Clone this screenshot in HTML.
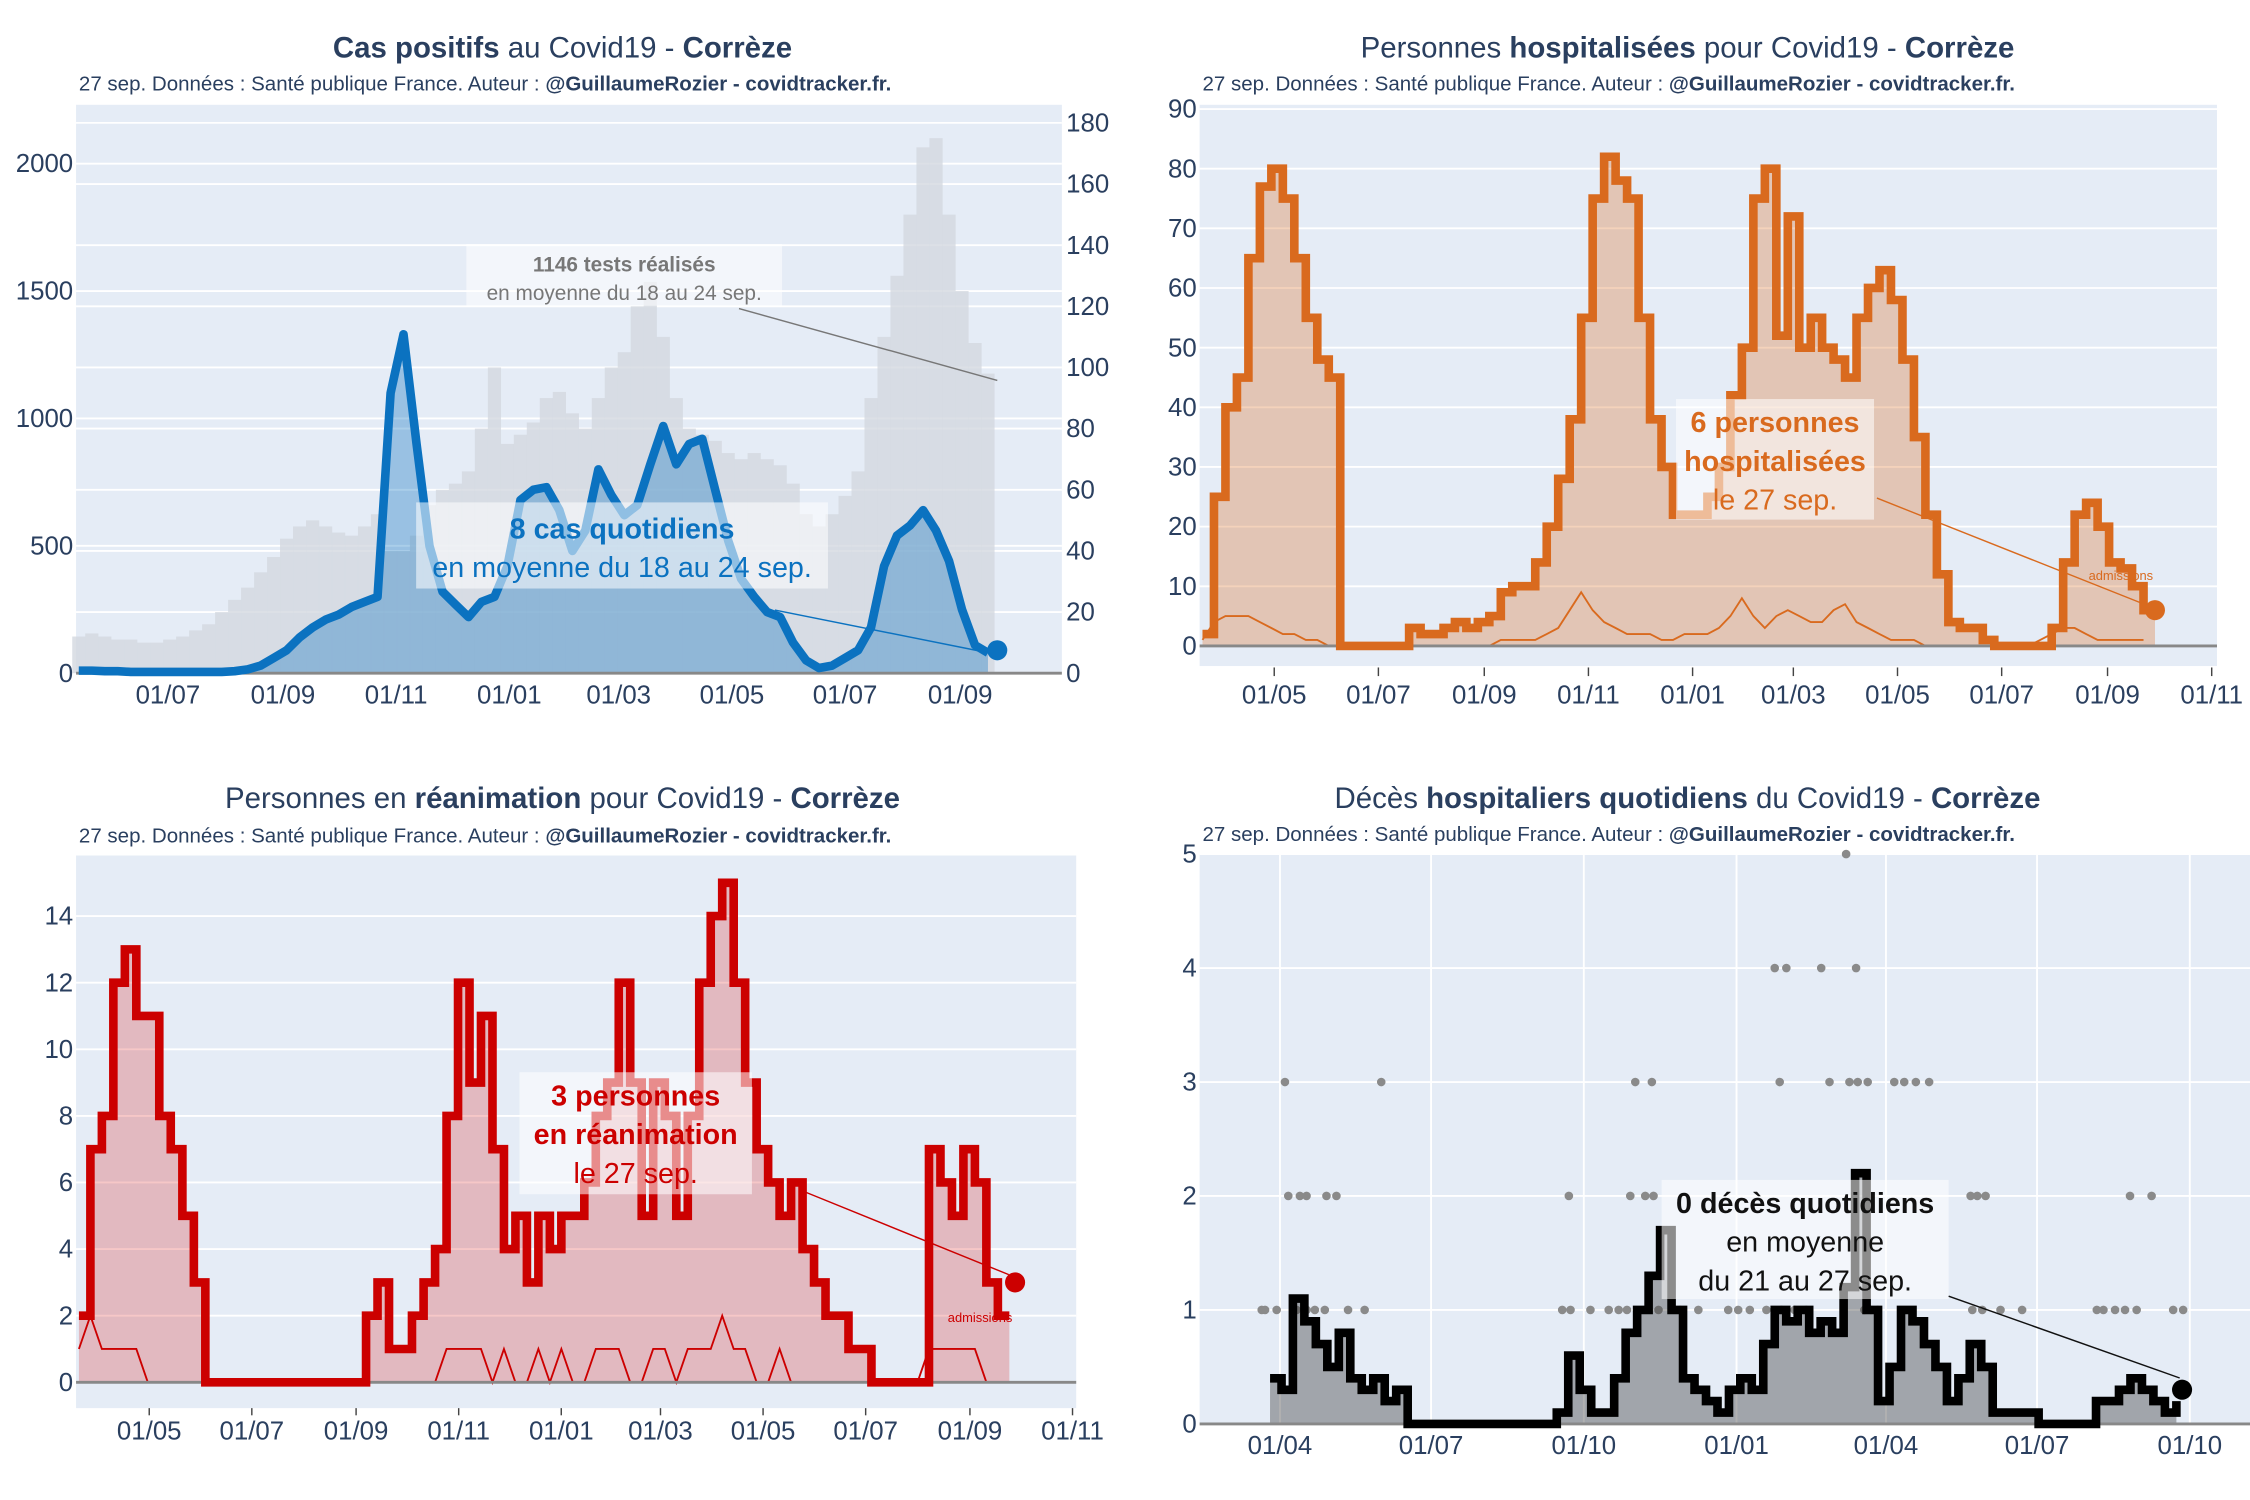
<!DOCTYPE html>
<html><head><meta charset="utf-8"><style>
html,body{margin:0;padding:0;background:#fff}
svg{display:block}
text{font-family:"Liberation Sans",sans-serif}
</style></head><body>
<svg id="root" width="2250" height="1500" viewBox="0 0 1568 1045" preserveAspectRatio="none" xmlns="http://www.w3.org/2000/svg"></svg>
<script>
// ---------- DATA ----------
// Chart 1: cas positifs (weekly, start 2020-05-14)
const casesVals=[10,10,8,8,5,5,5,5,5,5,5,5,8,15,30,60,90,140,180,210,230,260,280,300,1100,1330,900,500,320,270,220,280,300,420,680,720,730,640,480,560,800,700,620,660,820,970,820,900,920,720,520,370,300,240,220,120,50,20,30,60,90,180,420,540,580,640,560,440,250,110,80];
const testsVals=[12,13,12,11,11,10,10,11,12,14,16,20,24,28,33,38,44,48,50,48,46,45,48,52,40,40,45,55,60,62,66,80,100,75,78,82,90,92,85,80,90,100,105,120,128,110,90,80,78,76,72,70,72,70,68,62,52,48,52,58,66,90,110,130,150,172,175,150,125,108,98];
const casesLast=90;
const c1LeftTicks=[0,500,1000,1500,2000];
const c1RightTicks=[0,20,40,60,80,100,120,140,160,180];
const c1XLabels=["01/07","01/09","01/11","01/01","01/03","01/05","01/07","01/09"];
const c1XDays=[0,62,123,184,243,304,365,427];
// Chart 2: hospitalisés
const hospVals=[2,25,40,45,65,77,80,75,65,55,48,45,0,0,0,0,0,0,3,2,2,3,4,3,4,5,9,10,10,14,20,28,38,55,75,82,78,75,55,38,30,22,22,22,25,30,42,50,75,80,52,72,50,55,50,48,45,55,60,63,58,48,35,22,12,4,3,3,1,0,0,0,0,0,3,14,22,24,20,14,13,10,6,6];
const hospAdm=[1,4,5,5,5,4,3,2,2,1,1,0,0,0,0,0,0,0,0,0,0,0,0,0,0,0,1,1,1,1,2,3,6,9,6,4,3,2,2,2,1,1,2,2,2,3,5,8,5,3,5,6,5,4,4,6,7,4,3,2,1,1,1,0,0,0,0,0,0,0,0,0,0,1,2,3,3,2,1,1,1,1,1];
const hospLast=6;
const c2YTicks=[0,10,20,30,40,50,60,70,80,90];
const c2XLabels=["01/05","01/07","01/09","01/11","01/01","01/03","01/05","01/07","01/09","01/11"];
const c2XDays=[0,61,123,184,245,304,365,426,488,549];
// Chart 3: réanimation
const reaVals=[2,7,8,12,13,11,11,8,7,5,3,0,0,0,0,0,0,0,0,0,0,0,0,0,0,2,3,1,1,2,3,4,8,12,9,11,7,4,5,3,5,4,5,5,6,8,9,12,9,5,9,8,5,8,12,14,15,12,9,7,6,5,6,4,3,2,2,1,1,0,0,0,0,0,7,6,5,7,6,3,2,2];
const reaAdm=[1,2,1,1,1,1,0,0,0,0,0,0,0,0,0,0,0,0,0,0,0,0,0,0,0,0,0,0,0,0,0,0,1,1,1,1,0,1,0,0,1,0,1,0,0,1,1,1,0,0,1,1,0,1,1,1,2,1,1,0,0,1,0,0,0,0,0,0,0,0,0,0,0,0,1,1,1,1,1,0,0,0];
const reaLast=3;
const c3YTicks=[0,2,4,6,8,10,12,14];
const c3XLabels=["01/05","01/07","01/09","01/11","01/01","01/03","01/05","01/07","01/09","01/11"];
const c3XDays=[0,61,123,184,245,304,365,426,488,549];
// Chart 4: décès
const dcVals=[0.4,0.3,1.1,0.9,0.7,0.5,0.8,0.4,0.3,0.4,0.2,0.3,0,0,0,0,0,0,0,0,0,0,0,0,0,0.1,0.6,0.3,0.1,0.1,0.4,0.8,1.0,1.3,1.7,1.0,0.4,0.3,0.2,0.1,0.3,0.4,0.3,0.7,1.0,0.9,1.0,0.8,0.9,0.8,1.2,2.2,1.0,0.2,0.5,1.0,0.9,0.7,0.5,0.2,0.4,0.7,0.5,0.1,0.1,0.1,0.1,0,0,0,0,0,0.2,0.2,0.3,0.4,0.3,0.2,0.1,0.2];
const dcLast=0.3;
const dotDays=[341,298,305,326,347,3,61,214,224,301,331,343,348,354,370,376,383,391,5,12,16,28,34,174,211,220,225,416,420,425,512,525,-11,-9,-2,10,16,21,27,41,51,170,175,187,198,204,209,228,241,252,270,276,283,293,302,310,317,352,356,360,417,423,434,447,492,496,503,509,516,538,544];
const dotVals=[5,4,4,4,4,3,3,3,3,3,3,3,3,3,3,3,3,3,2,2,2,2,2,2,2,2,2,2,2,2,2,2,1,1,1,1,1,1,1,1,1,1,1,1,1,1,1,1,1,1,1,1,1,1,1,1,1,1,1,1,1,1,1,1,1,1,1,1,1,1,1];
const c4YTicks=[0,1,2,3,4,5];
const c4XLabels=["01/04","01/07","01/10","01/01","01/04","01/07","01/10"];
const c4XDays=[0,91,183,275,365,456,548];

// ---------- HELPERS ----------
const NS="http://www.w3.org/2000/svg";
const root=document.getElementById('root');
function mk(tag,attrs,parent){const e=document.createElementNS(NS,tag);for(const k in attrs)e.setAttribute(k,attrs[k]);(parent||root).appendChild(e);return e;}
function txt(s,attrs,parent){const e=mk('text',attrs,parent);e.textContent=s;return e;}
function linePath(xs,ys){return xs.map((x,i)=>(i?'L':'M')+x.toFixed(1)+','+ys[i].toFixed(1)).join('');}
function stepPath(xs,ys){let d='M'+xs[0].toFixed(1)+','+ys[0].toFixed(1);for(let i=1;i<xs.length;i++){d+='H'+xs[i].toFixed(1)+'V'+ys[i].toFixed(1);}return d;}
function title(cx,y,parts,g){const t=mk('text',{x:cx,y:y,'text-anchor':'middle','font-size':20.5,fill:'#2a3f5f'},g);
 parts.forEach(p=>{const s=mk('tspan',{'font-weight':p[1]?'bold':'normal'},t);s.textContent=p[0];});
 
 return t;}
function subtitle(x,y,g){const t=mk('text',{x:x,y:y,'font-size':14.3,fill:'#2a3f5f'},g);
 const a=mk('tspan',{},t);a.textContent='27 sep. Données : Santé publique France. Auteur : ';
 const b=mk('tspan',{'font-weight':'bold'},t);b.textContent='@GuillaumeRozier - covidtracker.fr.';
 
 }
function plotBg(x0,y0,x1,y1,g){const r=mk('rect',{x:x0,y:y0,width:x1-x0,height:y1-y0,fill:'#e5ecf6'},g);
 
 }
function hgrid(y,x0,x1,g){mk('line',{x1:x0,x2:x1,y1:y,y2:y,stroke:'#fff','stroke-width':1.3},g);}
function ytick(s,x,y,anchor,g){const t=txt(s,{x:x,y:y+6,'text-anchor':anchor,'font-size':18,fill:'#2a3f5f'},g);
 
 }
function xtick(s,x,y,g){const t=txt(s,{x:x,y:y,'text-anchor':'middle','font-size':18,fill:'#2a3f5f'},g);
 
 }
function annot(x,y,w,h,lines,color,g){const r=mk('rect',{x:x,y:y,width:w,height:h,fill:'rgba(255,255,255,0.55)'},g);
 
 
 lines.forEach(l=>{const t=txt(l[0],{x:x+w/2,y:l[1],'text-anchor':'middle','font-size':l[2],'font-weight':l[3]?'bold':'normal',fill:color},g);
 
 });}
function arrow(x1,y1,x2,y2,color,g){const l=mk('line',{x1,y1,x2,y2,stroke:color,'stroke-width':1},g);
 
 }
function group(name){const g=mk('g',{});return g;}

// ---------- CHART 1 ----------
(function(){
 const g=group('cases-chart');
 const X0=53,X1=740,Y0=73,Y1=469;
 const xDay=d=>117+d*1.293, yL=v=>469-v*0.1775, yR=v=>469-v*2.13;
 const start=-48, step=7;
 title(392,40,[['Cas positifs',1],[' au Covid19 - ',0],['Corrèze',1]],g);
 subtitle(55,63,g);
 plotBg(X0,Y0,X1,Y1,g);
 c1RightTicks.forEach(v=>{hgrid(yR(v),X0,X1,g);ytick(String(v),743,yR(v),'start',g);});
 c1LeftTicks.forEach(v=>{hgrid(yL(v),X0,X1,g);ytick(String(v),51,yL(v),'end',g);});
 testsVals.forEach((v,i)=>{const x=xDay(start+i*step);const b=mk('rect',{x:x-4.6,y:yR(v),width:9.2,height:Y1-yR(v),fill:'#d3d8e0',opacity:0.8},g);
  
  });
 const xs=casesVals.map((v,i)=>xDay(start+i*step)), ys=casesVals.map(yL);
 const a=mk('path',{d:linePath(xs,ys)+`L${xs[xs.length-1]},${Y1}L${xs[0]},${Y1}Z`,fill:'rgba(11,114,192,0.35)'},g);
 
 
 mk('line',{x1:X0,x2:X1,y1:Y1,y2:Y1,stroke:'#888','stroke-width':2},g);
 const l=mk('path',{d:linePath(xs,ys),fill:'none',stroke:'#0b72c0','stroke-width':6,'stroke-linejoin':'round'},g);
 
 
 const c=mk('circle',{cx:xDay(447),cy:yL(casesLast),r:7,fill:'#0b72c0'},g);
 
 
 c1XLabels.forEach((s,i)=>xtick(s,xDay(c1XDays[i]),490,g));
 annot(325,170,220,43,[['1146 tests réalisés',189,14.5,1],['en moyenne du 18 au 24 sep.',209,14.5,0]],'#777',g);
 arrow(515,215,695,265,'#777',g);
 annot(290,350,287,60,[['8 cas quotidiens',375,20,1],['en moyenne du 18 au 24 sep.',402,20,0]],'#0b72c0',g);
 arrow(540,425,690,455,'#0b72c0',g);
})();

// ---------- CHART 2 ----------
(function(){
 const g=group('hospital-chart');
 const X0=836,X1=1545,Y0=73,Y1=450;
 const xDay=d=>888+d*1.19, y=v=>450-v*4.156;
 const start=-42, step=6.72;
 title(1176,40,[['Personnes ',0],['hospitalisées',1],[' pour Covid19 - ',0],['Corrèze',1]],g);
 subtitle(838,63,g);
 plotBg(X0,Y0,X1,Y1+14,g);
 c2YTicks.forEach(v=>{hgrid(y(v),X0,X1,g);ytick(String(v),834,y(v),'end',g);});
 const xs=hospVals.map((v,i)=>xDay(start+i*step)), ys=hospVals.map(y);
 const d=stepPath(xs,ys);
 const a=mk('path',{d:d+`V${Y1}H${xs[0]}Z`,fill:'rgba(217,106,30,0.3)'},g);
 
 
 const ad=mk('path',{d:linePath(hospAdm.map((v,i)=>xDay(start+i*step)),hospAdm.map(y)),fill:'none',stroke:'#d96a1e','stroke-width':1.3},g);
 
 
 mk('line',{x1:X0,x2:X1,y1:Y1,y2:Y1,stroke:'#888','stroke-width':2},g);
 const l=mk('path',{d:d,fill:'none',stroke:'#d96a1e','stroke-width':6},g);
 
 
 const c=mk('circle',{cx:xs[xs.length-1],cy:y(hospLast),r:7,fill:'#d96a1e'},g);
 
 
 c2XLabels.forEach((s,i)=>{const x=xDay(c2XDays[i]);mk('line',{x1:x,x2:x,y1:465,y2:471,stroke:'#444'},g);xtick(s,x,490,g);});
 annot(1168,278,138,84,[['6 personnes',301,20,1],['hospitalisées',328,20,1],['le 27 sep.',355,20,0]],'#d96a1e',g);
 arrow(1308,347,1497,422,'#d96a1e',g);
 const t=txt('admissions',{x:1478,y:404,'font-size':9,fill:'#d96a1e','text-anchor':'middle'},g);
 
 
})();

// ---------- CHART 3 ----------
(function(){
 const g=group('icu-chart');
 const X0=53,X1=750,Y0=596,Y1=963;
 const xDay=d=>104+d*1.172, y=v=>963-v*23.2;
 const start=-41.8, step=6.83;
 title(392,563,[['Personnes en ',0],['réanimation',1],[' pour Covid19 - ',0],['Corrèze',1]],g);
 subtitle(55,587,g);
 plotBg(X0,Y0,X1,Y1+18,g);
 c3YTicks.forEach(v=>{hgrid(y(v),X0,X1,g);ytick(String(v),51,y(v),'end',g);});
 const xs=reaVals.map((v,i)=>xDay(start+i*step)), ys=reaVals.map(y);
 const d=stepPath(xs,ys);
 const a=mk('path',{d:d+`V${Y1}H${xs[0]}Z`,fill:'rgba(220,30,30,0.25)'},g);
 
 
 const ad=mk('path',{d:linePath(reaAdm.map((v,i)=>xDay(start+i*step)),reaAdm.map(y)),fill:'none',stroke:'#cc0000','stroke-width':1.3},g);
 
 
 mk('line',{x1:X0,x2:X1,y1:Y1,y2:Y1,stroke:'#888','stroke-width':2},g);
 const l=mk('path',{d:d,fill:'none',stroke:'#cc0000','stroke-width':6},g);
 
 
 const c=mk('circle',{cx:xs[xs.length-1]+4,cy:y(reaLast),r:7,fill:'#cc0000'},g);
 
 
 c3XLabels.forEach((s,i)=>{const x=xDay(c3XDays[i]);mk('line',{x1:x,x2:x,y1:981,y2:986,stroke:'#444'},g);xtick(s,x,1003,g);});
 annot(362,747,162,85,[['3 personnes',770,20,1],['en réanimation',797,20,1],['le 27 sep.',824,20,0]],'#cc0000',g);
 arrow(560,830,703,888,'#cc0000',g);
 const t=txt('admissions',{x:683,y:921,'font-size':9,fill:'#cc0000','text-anchor':'middle'},g);
 
 
})();

// ---------- CHART 4 ----------
(function(){
 const g=group('deaths-chart');
 const X0=836,X1=1568,Y0=595,Y1=992;
 const xDay=d=>892+d*1.157, y=v=>992-v*79.4;
 const start=-6, step=6.91;
 title(1176,563,[['Décès ',0],['hospitaliers quotidiens',1],[' du Covid19 - ',0],['Corrèze',1]],g);
 subtitle(838,586,g);
 plotBg(X0,Y0,X1,Y1,g);
 c4YTicks.forEach(v=>{hgrid(y(v),X0,X1,g);ytick(String(v),834,y(v),'end',g);});
 c4XDays.forEach(d=>mk('line',{x1:xDay(d),x2:xDay(d),y1:Y0,y2:Y1,stroke:'#fff','stroke-width':1.3},g));
 dotDays.forEach((d,i)=>{const c=mk('circle',{cx:xDay(d),cy:y(dotVals[i]),r:3,fill:'#8a8a8a'},g);
  
  });
 const xs=dcVals.map((v,i)=>xDay(start+i*step)), ys=dcVals.map(y);
 const d=stepPath(xs,ys);
 const a=mk('path',{d:d+`V${Y1}H${xs[0]}Z`,fill:'rgba(60,60,60,0.4)'},g);
 
 
 mk('line',{x1:X0,x2:X1,y1:Y1,y2:Y1,stroke:'#888','stroke-width':2},g);
 const l=mk('path',{d:d,fill:'none',stroke:'#000','stroke-width':6},g);
 
 
 const c=mk('circle',{cx:xs[xs.length-1]+4,cy:y(dcLast),r:7,fill:'#000'},g);
 
 
 c4XLabels.forEach((s,i)=>xtick(s,xDay(c4XDays[i]),1013,g));
 annot(1158,822,200,83,[['0 décès quotidiens',845,20,1],['en moyenne',872,20,0],['du 21 au 27 sep.',899,20,0]],'#111',g);
 arrow(1358,903,1519,960,'#111',g);
})();
</script>
</body></html>
